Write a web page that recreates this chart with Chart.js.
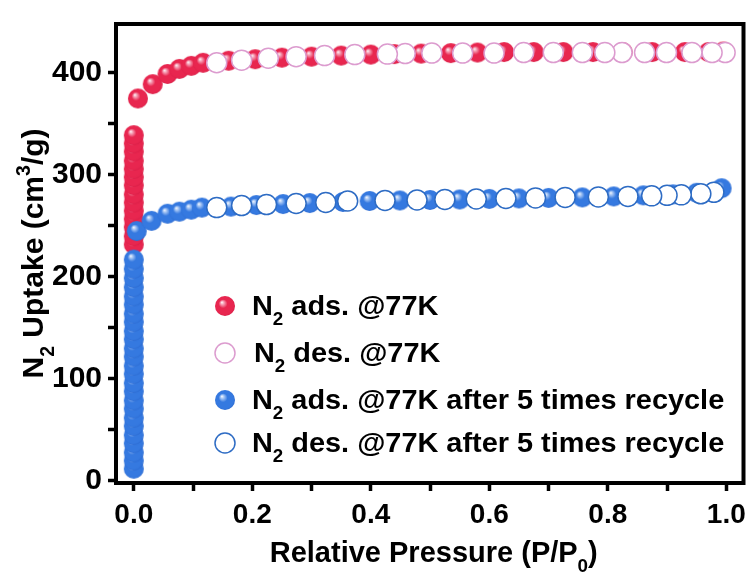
<!DOCTYPE html>
<html>
<head>
<meta charset="utf-8">
<script src="https://cdn.jsdelivr.net/npm/chart.js@4.4.1/dist/chart.umd.min.js"></script>
<style>
  html, body { margin: 0; padding: 0; background: #fff; }
  #wrap { width: 755px; height: 575px; position: relative; }
</style>
</head>
<body>
<div id="wrap"><canvas id="c" width="755" height="575"></canvas></div>
<script>
const FONT = '"Liberation Sans", Arial, Helvetica, sans-serif';

// N2 adsorption at 77 K: relative pressure (P/P0) and uptake (cm3/g)
const adsPressure = [0, 0, 0, 0, 0, 0, 0, 0, 0, 0, 0, 0, 0, 0,
  0.007, 0.032, 0.057, 0.077, 0.097, 0.117, 0.160, 0.205, 0.250, 0.300, 0.350, 0.400,
  0.440, 0.485, 0.535, 0.580, 0.625, 0.675, 0.725, 0.775, 0.825, 0.875, 0.930, 0.970, 0.995];
const adsUptake = [232, 240, 249, 257, 265, 273, 281, 290, 298, 306, 314, 323, 331, 339,
  375, 389, 399, 404, 407, 410, 412, 413.5, 415, 416, 417, 418,
  418.5, 419, 419.5, 420, 420.5, 420.5, 420.5, 420.5, 420.5, 420.5, 420.5, 420.5, 421];

// N2 desorption at 77 K
const desPressure = [0.998, 0.976, 0.942, 0.899, 0.862, 0.824, 0.795, 0.757, 0.708, 0.658,
  0.608, 0.555, 0.503, 0.458, 0.428, 0.373, 0.322, 0.274, 0.227, 0.182, 0.140];
const desUptake = [420, 420, 420, 420, 420, 420, 420, 420, 420, 420,
  419.5, 419.5, 419.5, 419, 418.5, 418, 417, 416, 414.5, 412.5, 410];

// N2 adsorption at 77 K after 5 recycles
const recAdsPressure = [0, 0, 0, 0, 0, 0, 0, 0, 0, 0, 0, 0, 0, 0, 0, 0, 0, 0, 0, 0, 0, 0, 0, 0, 0,
  0.005, 0.030, 0.057, 0.077, 0.097, 0.115, 0.164, 0.207, 0.252, 0.297, 0.353, 0.398,
  0.449, 0.500, 0.550, 0.600, 0.650, 0.700, 0.757, 0.810, 0.860, 0.910, 0.950, 0.992];
const recAdsUptake = [12, 20, 28, 37, 45, 54, 62, 71, 79, 88, 96, 105, 113, 122, 130, 139, 147,
  156, 164, 173, 181, 190, 199, 208, 217,
  245, 255, 262, 264, 266, 268, 269, 270.5, 271.5, 272.5, 273.5, 274.5,
  275, 275.5, 276, 276.5, 277, 277.5, 278, 279, 280, 281, 282.5, 287];

// N2 desorption at 77 K after 5 recycles
const recDesPressure = [0.979, 0.957, 0.924, 0.900, 0.874, 0.834, 0.784, 0.728, 0.678, 0.628,
  0.578, 0.525, 0.478, 0.424, 0.361, 0.324, 0.274, 0.224, 0.182, 0.140];
const recDesUptake = [283, 281.5, 280.5, 280, 279.5, 279, 278.5, 278, 277.5, 277,
  276.5, 276, 275.5, 275, 274.5, 273, 272, 271, 270, 268];

const xTicks = [0, 0.1, 0.2, 0.3, 0.4, 0.5, 0.6, 0.7, 0.8, 0.9, 1.0];
const xLabels = ['0.0', '', '0.2', '', '0.4', '', '0.6', '', '0.8', '', '1.0'];
const yTicks = [0, 50, 100, 150, 200, 250, 300, 350, 400];
const yLabels = ['0', '', '100', '', '200', '', '300', '', '400'];

// legend rows: [formula, subscript, rest]
const seriesNames = [
  ['N', '2', ' ads. @77K'],
  ['N', '2', ' des. @77K'],
  ['N', '2', ' ads. @77K after 5 times recycle'],
  ['N', '2', ' des. @77K after 5 times recycle']
];

const RED = '#e8264f';
const BLUE = '#3579e0';
const PINK_EDGE = '#dc9ccf';
const BLUE_EDGE = '#2e6cc4';

function sphere(base, light, dark, r) {
  const c = document.createElement('canvas');
  c.width = c.height = 2 * r + 2;
  const g = c.getContext('2d');
  const cx = r + 1, cy = r + 1;
  const grad = g.createRadialGradient(cx - 0.32 * r, cy - 0.38 * r, 0, cx, cy, r * 1.05);
  grad.addColorStop(0, '#ffffff');
  grad.addColorStop(0.16, light);
  grad.addColorStop(0.42, base);
  grad.addColorStop(0.85, base);
  grad.addColorStop(1, dark);
  g.fillStyle = grad;
  g.beginPath();
  g.arc(cx, cy, r, 0, Math.PI * 2);
  g.fill();
  return c;
}
const redBall = sphere(RED, '#f6a3b8', '#d31c45', 10);
const blueBall = sphere(BLUE, '#a9c8f5', '#2a66cc', 10);

const pts = (xs, ys) => xs.map((x, i) => ({ x: x, y: ys[i] }));

// text with sub/superscripts; hs stretches glyphs horizontally
function richText(ctx, parts, x, y, size, align, hs) {
  hs = hs || 1;
  const widths = parts.map(p => {
    ctx.font = 'bold ' + (p.mode ? size * 0.65 : size) + 'px ' + FONT;
    return ctx.measureText(p.t).width * hs;
  });
  const total = widths.reduce((a, b) => a + b, 0);
  let cx = align === 'center' ? x - total / 2 : x;
  ctx.textAlign = 'left';
  ctx.textBaseline = 'alphabetic';
  parts.forEach((p, i) => {
    ctx.font = 'bold ' + (p.mode ? size * 0.65 : size) + 'px ' + FONT;
    let dy = 0;
    if (p.mode === 'sub') dy = size * 0.36;
    if (p.mode === 'sup') dy = -size * 0.42;
    ctx.save();
    ctx.translate(cx, y + dy);
    ctx.scale(hs, 1);
    ctx.fillText(p.t, 0, 0);
    ctx.restore();
    cx += widths[i];
  });
}

const decor = {
  id: 'decor',
  afterDraw(chart) {
    const ctx = chart.ctx;
    const a = chart.chartArea;
    ctx.save();
    // plot frame
    ctx.strokeStyle = '#000';
    ctx.lineWidth = 4;
    ctx.strokeRect(a.left, a.top, a.right - a.left, a.bottom - a.top);

    ctx.fillStyle = '#000';
    // x title
    richText(ctx, [{ t: 'Relative Pressure (P/P' }, { t: '0', mode: 'sub' }, { t: ')' }],
      (a.left + a.right) / 2 + 4, 562, 29, 'center', 1.0);
    // y title
    ctx.save();
    ctx.translate(43, (a.top + a.bottom) / 2);
    ctx.rotate(-Math.PI / 2);
    richText(ctx, [{ t: 'N' }, { t: '2', mode: 'sub' }, { t: ' Uptake (cm' }, { t: '3', mode: 'sup' }, { t: '/g)' }],
      0, 0, 30, 'center', 1.0);
    ctx.restore();

    // legend
    const rows = [306, 353, 400, 443];
    const symX = 225, txtX = 252;
    rows.forEach((ry, i) => {
      if (i === 0 || i === 2) {
        const img = i === 0 ? redBall : blueBall;
        ctx.drawImage(img, symX - img.width / 2, ry - img.height / 2);
      } else {
        ctx.beginPath();
        ctx.arc(symX, ry, 10, 0, Math.PI * 2);
        ctx.fillStyle = '#fff';
        ctx.fill();
        ctx.lineWidth = 1.5;
        ctx.strokeStyle = i === 1 ? PINK_EDGE : BLUE_EDGE;
        ctx.stroke();
      }
      ctx.fillStyle = '#000';
      const n = seriesNames[i];
      richText(ctx, [{ t: n[0] }, { t: n[1], mode: 'sub' }, { t: n[2] }],
        txtX + (i === 1 ? 2 : 0), ry + 9, 27, 'left', 1.07);
    });
    ctx.restore();
  }
};

new Chart(document.getElementById('c'), {
  type: 'scatter',
  data: {
    datasets: [
      { label: 'N2 ads. @77K', data: pts(adsPressure, adsUptake), order: 4,
        pointStyle: redBall, pointRadius: 10, showLine: false },
      { label: 'N2 des. @77K', data: pts(desPressure, desUptake), order: 3,
        pointStyle: 'circle', pointRadius: 10, pointBackgroundColor: '#fff',
        pointBorderColor: PINK_EDGE, pointBorderWidth: 1.5, showLine: false },
      { label: 'N2 ads. @77K after 5 times recycle', data: pts(recAdsPressure, recAdsUptake), order: 2,
        pointStyle: blueBall, pointRadius: 10, showLine: false },
      { label: 'N2 des. @77K after 5 times recycle', data: pts(recDesPressure, recDesUptake), order: 1,
        pointStyle: 'circle', pointRadius: 10, pointBackgroundColor: '#fff',
        pointBorderColor: BLUE_EDGE, pointBorderWidth: 1.5, showLine: false }
    ]
  },
  options: {
    responsive: false,
    animation: false,
    layout: { padding: { top: 16, right: 5, left: 0, bottom: 0 } },
    plugins: { legend: { display: false }, tooltip: { enabled: false } },
    scales: {
      x: {
        type: 'linear', min: -0.03, max: 1.029,
        afterBuildTicks: s => { s.ticks = xTicks.map(v => ({ value: v })); },
        afterFit: s => { s.height = 92; },
        ticks: { callback: (v, i) => xLabels[i], color: '#000', padding: 7,
          maxRotation: 0, autoSkip: false, font: { family: FONT, size: 28, weight: 'bold' } },
        grid: { drawOnChartArea: false, drawTicks: true, tickLength: 8, tickWidth: 3.5, tickColor: '#000' },
        border: { display: true, width: 4, color: '#000' }
      },
      y: {
        type: 'linear', min: -2, max: 448,
        afterBuildTicks: s => { s.ticks = yTicks.map(v => ({ value: v })); },
        afterFit: s => { s.width = 116; },
        ticks: { callback: (v, i) => yLabels[i], color: '#000', padding: 6,
          autoSkip: false, font: { family: FONT, size: 30, weight: 'bold' } },
        grid: { drawOnChartArea: false, drawTicks: true, tickLength: 8, tickWidth: 3.5, tickColor: '#000' },
        border: { display: true, width: 4, color: '#000' }
      }
    }
  },
  plugins: [decor]
});
</script>
</body>
</html>
